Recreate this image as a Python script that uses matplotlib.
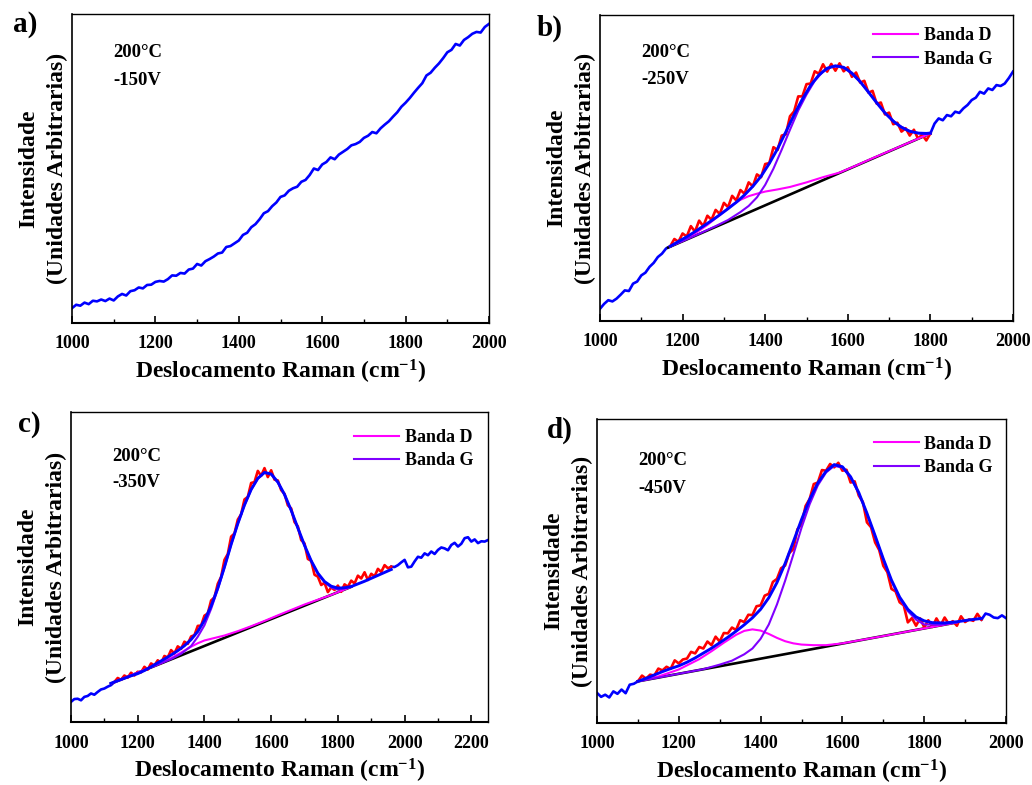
import numpy as np
import matplotlib
matplotlib.use("Agg")
import matplotlib.pyplot as plt
from matplotlib.ticker import MultipleLocator

plt.rcParams['font.family'] = ['Liberation Serif', 'DejaVu Serif']
plt.rcParams['font.weight'] = 'bold'
plt.rcParams['axes.labelweight'] = 'bold'
plt.rcParams['mathtext.fontset'] = 'custom'
plt.rcParams['mathtext.rm'] = 'Liberation Serif:bold'
plt.rcParams['mathtext.it'] = 'Liberation Serif:bold'
plt.rcParams['mathtext.bf'] = 'Liberation Serif:bold'

# =========================
# Données (intensité en unités arbitraires, 0-100)
# =========================
# a) -150V : spectre brut seul, pas de 10 cm-1
x_a = np.arange(1000, 2001, 10)
y_a = [4.8, 5.9, 5.6, 6.6, 6.1, 7.2, 7.0, 7.6, 7.1, 7.9,
       7.3, 8.6, 9.4, 8.9, 10.3, 10.6, 11.5, 11.2, 12.3, 12.4,
       13.3, 13.6, 13.4, 14.2, 15.4, 15.3, 16.2, 16.0, 17.3, 17.6,
       19.1, 18.6, 20.0, 20.7, 21.5, 22.5, 22.8, 24.6, 24.9, 25.8,
       26.7, 28.5, 29.2, 31.0, 32.0, 33.6, 35.5, 36.2, 37.8, 39.0,
       40.8, 41.3, 42.8, 43.6, 44.1, 45.7, 46.3, 47.9, 50.0, 49.5,
       51.3, 52.1, 53.6, 53.0, 54.5, 55.4, 56.3, 57.5, 57.9, 58.6,
       59.9, 60.6, 61.8, 61.4, 63.0, 64.2, 65.3, 66.8, 68.2, 70.0,
       71.3, 72.8, 74.5, 76.1, 77.6, 80.1, 81.0, 82.6, 84.0, 85.7,
       87.6, 88.4, 90.3, 89.8, 91.6, 92.5, 93.6, 94.2, 94.0, 95.8, 96.8]

# b) -250V
xb_left = np.arange(1000, 1171, 10)
yb_left = [4.0, 5.6, 6.8, 6.4, 7.3, 8.6, 10.0, 9.8, 12.2, 12.9,
           14.9, 15.8, 17.7, 19.0, 20.9, 22.0, 23.7, 24.4]
xb_red = np.arange(1170, 1801, 10)
yb_red = [24.4, 26.8, 25.9, 28.6, 27.6, 31.0, 29.2, 32.8, 31.0, 34.4,
          33.1, 36.3, 35.0, 38.6, 37.2, 40.9, 39.4, 42.8, 41.6, 45.3,
          44.0, 47.9, 47.0, 51.3, 51.6, 56.8, 55.9, 60.6, 61.0, 66.9,
          68.5, 73.4, 73.4, 77.4, 77.6, 81.6, 80.8, 83.9, 81.5, 84.0,
          81.8, 84.2, 81.6, 82.9, 79.8, 81.2, 77.9, 78.5, 74.6, 75.2,
          71.0, 71.4, 67.5, 68.1, 64.3, 64.8, 61.9, 63.0, 60.6, 62.5,
          59.6, 60.9, 59.0, 61.3]
xb_right = np.arange(1800, 2001, 10)
yb_right = [61.3, 64.5, 66.2, 65.6, 67.3, 66.9, 68.4, 68.0, 69.5, 70.6,
            72.2, 73.0, 74.9, 74.3, 76.0, 75.5, 77.1, 76.8, 77.6, 79.4, 81.5]
xb_fit = [1170, 1190, 1210, 1230, 1250, 1270, 1290, 1310, 1330, 1350,
          1370, 1390, 1410, 1430, 1450, 1470, 1490, 1510, 1530, 1550,
          1570, 1590, 1610, 1630, 1650, 1670, 1690, 1710, 1730, 1750,
          1770, 1790, 1800]
yb_fit = [24.4, 26.0, 27.5, 29.2, 31.0, 32.8, 34.7, 36.7, 38.8, 41.2,
          44.0, 47.3, 51.5, 56.3, 61.8, 67.4, 72.5, 77.0, 80.4, 82.6,
          83.4, 82.9, 81.0, 78.2, 74.8, 71.3, 68.0, 65.3, 63.3, 62.0,
          61.4, 61.3, 61.4]
xb_base = [1165, 1800]
yb_base = [24.0, 61.3]
xb_d = [1170, 1200, 1230, 1260, 1290, 1320, 1340, 1360, 1380, 1400,
        1430, 1460, 1500, 1540, 1580, 1620, 1660, 1700, 1750, 1800]
yb_d = [24.4, 26.3, 28.6, 31.4, 34.6, 37.9, 39.6, 40.8, 41.6, 42.3,
        43.0, 43.8, 45.3, 47.0, 48.5, 50.8, 53.2, 55.5, 58.4, 61.3]
xb_g = [1170, 1200, 1240, 1280, 1310, 1340, 1360, 1380, 1400, 1420,
        1440, 1460, 1480, 1500, 1520, 1540, 1560, 1580, 1600, 1630,
        1660, 1690, 1720, 1750, 1780, 1800]
yb_g = [24.4, 26.1, 28.5, 31.0, 33.0, 35.6, 37.6, 40.4, 44.5, 49.8,
        56.0, 62.5, 68.8, 74.0, 78.5, 81.5, 83.0, 83.2, 82.0, 78.2,
        73.1, 68.0, 64.2, 62.0, 61.2, 61.3]

# c) -350V
xc_left = np.arange(1000, 1131, 10)
yc_left = [6.5, 7.4, 7.5, 7.0, 8.1, 8.4, 9.2, 8.8, 9.7, 10.5,
           10.8, 11.4, 11.9, 12.9]
xc_red = np.arange(1130, 1961, 10)
yc_red = [12.9, 14.2, 13.6, 15.0, 14.3, 15.9, 15.0, 16.2, 16.0, 17.8,
          16.9, 18.9, 18.2, 19.9, 19.0, 21.3, 20.8, 23.2, 22.1, 24.4,
          23.6, 25.9, 25.2, 27.6, 28.0, 31.0, 31.1, 34.3, 35.0, 39.2,
          40.2, 44.6, 46.8, 52.3, 54.2, 59.8, 60.8, 65.3, 67.0, 71.8,
          72.6, 77.1, 77.4, 81.0, 79.4, 81.9, 79.0, 81.2, 78.2, 77.9,
          74.8, 73.6, 69.9, 68.9, 64.5, 63.1, 58.7, 57.6, 52.6, 52.0,
          47.5, 46.9, 44.2, 44.9, 41.9, 43.4, 42.6, 44.0, 42.0, 44.4,
          43.6, 45.6, 44.7, 47.2, 46.3, 48.3, 45.8, 47.8, 47.0, 49.4,
          48.4, 50.6, 49.6, 50.1]
xc_right = np.arange(1960, 2251, 10)
yc_right = [50.1, 50.0, 50.6, 51.5, 52.3, 49.9, 50.1, 51.8, 53.3, 53.0,
            54.4, 53.8, 55.0, 54.2, 55.5, 56.3, 56.0, 55.4, 57.1, 57.8,
            56.6, 57.5, 59.3, 59.6, 58.2, 58.9, 57.7, 58.3, 58.2, 58.7]
xc_fit = [1120, 1140, 1160, 1180, 1200, 1220, 1240, 1260, 1280, 1300,
          1320, 1340, 1360, 1380, 1400, 1420, 1440, 1460, 1480, 1500,
          1520, 1540, 1560, 1580, 1600, 1620, 1640, 1660, 1680, 1700,
          1720, 1740, 1760, 1780, 1800, 1820, 1840, 1880, 1920, 1960]
yc_fit = [12.5, 13.3, 14.1, 14.9, 15.6, 16.6, 17.8, 19.1, 20.3, 21.6,
          23.0, 24.6, 26.6, 29.2, 32.8, 37.4, 43.2, 50.0, 57.3, 64.0,
          70.0, 75.0, 78.6, 80.5, 80.0, 77.4, 73.4, 68.3, 62.6, 57.0,
          52.0, 48.0, 45.3, 43.8, 43.2, 43.3, 43.7, 45.4, 47.3, 49.2]
xc_base = [1120, 1840]
yc_base = [12.4, 43.6]
xc_d = [1120, 1200, 1260, 1300, 1330, 1360, 1380, 1400, 1430, 1460,
        1500, 1540, 1580, 1620, 1700, 1780, 1840]
yc_d = [12.4, 15.9, 18.6, 20.6, 22.4, 24.3, 25.4, 26.3, 27.1, 27.9,
        29.3, 30.9, 32.6, 34.4, 37.9, 41.0, 43.6]
xc_g = [1120, 1200, 1260, 1300, 1330, 1360, 1380, 1400, 1420, 1440,
        1460, 1480, 1500, 1520, 1540, 1560, 1580, 1600, 1620, 1640,
        1660, 1680, 1700, 1720, 1740, 1760, 1780, 1800, 1840]
yc_g = [12.4, 15.9, 18.5, 20.3, 22.0, 24.5, 27.5, 31.2, 36.5, 42.8,
        49.8, 57.2, 63.9, 69.9, 74.9, 78.5, 80.4, 79.9, 77.3, 73.3,
        68.2, 62.5, 56.9, 51.9, 47.9, 45.1, 43.4, 42.7, 43.6]

# d) -450V
xd_left = np.arange(1000, 1101, 10)
yd_left = [9.9, 8.6, 9.3, 8.4, 10.4, 9.6, 11.0, 9.8, 12.6, 12.9, 13.7]
xd_red = np.arange(1100, 1941, 10)
yd_red = [13.7, 15.6, 14.6, 15.9, 15.6, 17.9, 17.3, 18.5, 17.8, 20.6,
          19.6, 20.9, 21.2, 23.4, 22.9, 25.0, 24.5, 26.8, 25.6, 28.4,
          26.8, 29.6, 29.5, 31.4, 30.6, 33.8, 33.2, 35.6, 35.5, 38.4,
          38.7, 41.9, 42.5, 46.4, 47.4, 50.9, 51.8, 55.9, 57.2, 63.7,
          65.4, 71.4, 73.7, 78.6, 79.1, 83.2, 83.0, 85.2, 84.1, 85.6,
          83.0, 83.3, 79.1, 79.5, 74.8, 72.7, 66.0, 64.4, 59.4, 56.9,
          51.7, 49.6, 44.1, 43.3, 39.7, 38.7, 33.1, 34.5, 32.0, 34.4,
          31.5, 33.8, 31.6, 34.4, 32.1, 34.7, 32.6, 33.5, 32.0, 35.1,
          33.2, 34.1, 33.6, 35.9, 34.0]
xd_right = np.arange(1940, 2001, 10)
yd_right = [34.0, 36.0, 35.6, 34.7, 34.5, 35.4, 34.5]
xd_fit = [1100, 1120, 1140, 1160, 1180, 1200, 1220, 1240, 1260, 1280,
          1300, 1320, 1340, 1360, 1380, 1400, 1420, 1440, 1460, 1480,
          1500, 1520, 1540, 1560, 1580, 1600, 1620, 1640, 1660, 1680,
          1700, 1720, 1740, 1760, 1780, 1800, 1820, 1850, 1880, 1910, 1940]
yd_fit = [13.7, 14.7, 15.8, 16.9, 17.9, 18.8, 20.0, 21.4, 23.0, 24.6,
          26.4, 28.2, 30.2, 32.3, 34.6, 37.4, 41.2, 46.2, 52.5, 59.6,
          66.9, 73.6, 79.0, 82.8, 85.0, 84.3, 81.0, 75.8, 69.0, 61.6,
          54.0, 47.0, 41.4, 37.4, 34.9, 33.6, 33.0, 32.9, 33.3, 33.9, 34.4]
xd_base = [1100, 1880]
yd_base = [13.7, 33.1]
xd_d = [1100, 1150, 1200, 1250, 1280, 1310, 1340, 1360, 1380, 1400,
        1420, 1440, 1460, 1480, 1500, 1530, 1560, 1600, 1700, 1800, 1880]
yd_d = [13.7, 15.3, 17.6, 21.0, 23.6, 26.4, 29.0, 30.3, 30.8, 30.4,
        29.3, 28.0, 26.9, 26.2, 25.8, 25.6, 25.6, 26.2, 28.6, 31.1, 33.1]
xd_g = [1100, 1200, 1260, 1300, 1330, 1360, 1380, 1400, 1420, 1440,
        1460, 1480, 1500, 1520, 1540, 1560, 1580, 1600, 1620, 1640,
        1660, 1680, 1700, 1720, 1740, 1760, 1780, 1800, 1840, 1880]
yd_g = [13.7, 16.2, 17.7, 19.2, 20.5, 22.6, 24.5, 27.7, 32.4, 39.0,
        46.8, 55.4, 64.2, 72.0, 78.2, 82.4, 84.6, 84.0, 80.8, 75.6,
        68.8, 61.4, 53.8, 46.7, 41.0, 36.8, 34.0, 32.4, 32.3, 33.1]

# =========================
# Mise en forme
# =========================
W, H = 1032, 785
fig = plt.figure(figsize=(W / 100, H / 100), dpi=100)

LW_DATA = 1.9
LW_BAND = 1.5


def add_ax(left, right, top, bottom):
    return fig.add_axes([left / W, 1 - bottom / H, (right - left) / W, (bottom - top) / H])


def style(ax, xmax, temp, volt, ty):
    ax.set_xlim(1000, xmax)
    ax.set_ylim(0, 100)
    ax.set_yticks([])
    ax.xaxis.set_major_locator(MultipleLocator(200))
    ax.xaxis.set_minor_locator(MultipleLocator(100))
    ax.tick_params(axis='x', which='major', direction='in', length=5, width=1.2,
                   labelsize=13, pad=9, top=False)
    ax.tick_params(axis='x', which='minor', direction='in', length=3, width=1.0, top=False)
    for s in ax.spines.values():
        s.set_linewidth(1.0)
    ax.spines['bottom'].set_linewidth(1.5)
    ax.spines['left'].set_linewidth(1.2)
    ax.set_xlabel("Deslocamento Raman (cm$^{-1}$)", fontsize=17, labelpad=4)
    ax.set_ylabel("Intensidade\n(Unidades Arbitrarias)", fontsize=17,
                  linespacing=1.45, labelpad=3)
    ax.text(0.10, ty[0], temp, transform=ax.transAxes, fontsize=13.5, va='center')
    ax.text(0.10, ty[1], volt, transform=ax.transAxes, fontsize=13.5, va='center')


def fitted_panel(ax, left, red, right, base, d, g, fit):
    ax.plot(*left, color='#0000FF', lw=LW_DATA)
    ax.plot(*right, color='#0000FF', lw=LW_DATA)
    ax.plot(*base, color='black', lw=LW_DATA)
    ax.plot(*red, color='#FF0000', lw=LW_DATA)
    ax.plot(*d, color='#FF00FF', lw=LW_BAND, label='Banda D')
    ax.plot(*g, color='#8000FF', lw=LW_BAND, label='Banda G')
    ax.plot(*fit, color='#0000FF', lw=2.1)


def bands_legend(ax, pos):
    ax.legend(loc='upper right', bbox_to_anchor=pos, frameon=False, fontsize=13,
              handlelength=2.5, handletextpad=0.3, labelspacing=0.35,
              borderaxespad=0, borderpad=0)


# a)
ax = add_ax(72, 489, 14, 323)
ax.plot(x_a, y_a, color='#0000FF', lw=LW_DATA)
style(ax, 2000, "200°C", "-150V", (0.877, 0.786))

# b)
ax = add_ax(600, 1013, 15, 321)
fitted_panel(ax, (xb_left, yb_left), (xb_red, yb_red), (xb_right, yb_right),
             (xb_base, yb_base), (xb_d, yb_d), (xb_g, yb_g), (xb_fit, yb_fit))
style(ax, 2000, "200°C", "-250V", (0.879, 0.788))
bands_legend(ax, (0.95, 0.96))

# c)
ax = add_ax(71, 488, 412, 722)
fitted_panel(ax, (xc_left, yc_left), (xc_red, yc_red), (xc_right, yc_right),
             (xc_base, yc_base), (xc_d, yc_d), (xc_g, yc_g), (xc_fit, yc_fit))
style(ax, 2250, "200°C", "-350V", (0.855, 0.771))
bands_legend(ax, (0.965, 0.945))

# d)
ax = add_ax(597, 1006, 419, 723)
fitted_panel(ax, (xd_left, yd_left), (xd_red, yd_red), (xd_right, yd_right),
             (xd_base, yd_base), (xd_d, yd_d), (xd_g, yd_g), (xd_fit, yd_fit))
style(ax, 2000, "200°C", "-450V", (0.865, 0.773))
bands_legend(ax, (0.968, 0.945))

# Lettres des panneaux
for lab, px, py in [('a)', 13, 24), ('b)', 537, 28), ('c)', 18, 425), ('d)', 547, 430)]:
    fig.text(px / W, 1 - py / H, lab, fontsize=21, va='center', ha='left')

fig.savefig("out.png", dpi=100)
